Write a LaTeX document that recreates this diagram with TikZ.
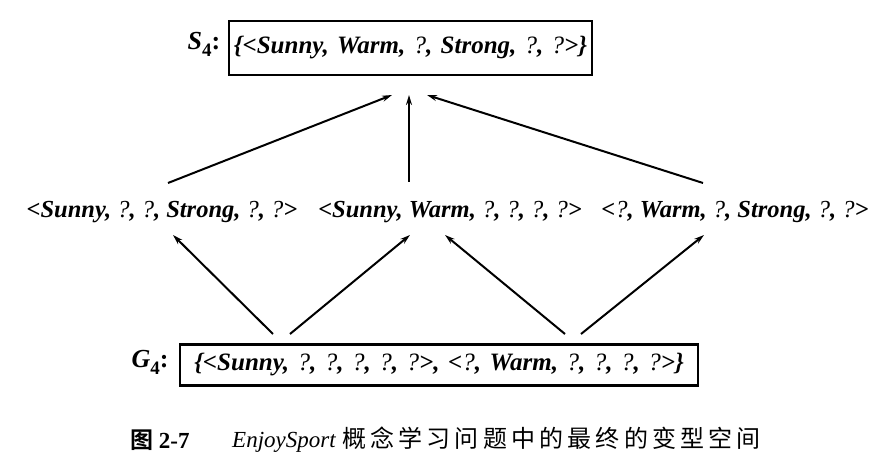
\documentclass[tikz,border=0pt]{standalone}
\usepackage{fontspec}
\setmainfont{Liberation Serif}
\newfontfamily\cjkfont{Noto Sans CJK SC}
\newfontfamily\cjkboldfont{Noto Sans CJK SC}[BoldFont={* Bold}]
\usetikzlibrary{arrows.meta}
\newcommand{\qm}{{\mdseries ?}}
\newcommand{\ck}[1]{#1\kern4.2pt}
\newcommand{\wsp}[1]{\spaceskip=#1em\relax}
\tikzset{
  setbox/.style={draw, line width=2.6pt, inner sep=3pt, anchor=center},
  hyp/.style={inner sep=0pt, anchor=center,
    font=\fontsize{24.5}{28}\selectfont\bfseries\itshape},
  setlab/.style={inner sep=0pt, anchor=center,
    font=\fontsize{26}{28}\selectfont\bfseries},
  conn/.style={line width=2pt, -{Stealth[length=10pt,width=6pt]}},
  captext/.style={inner sep=0pt, anchor=west}
}
\begin{document}
\begin{tikzpicture}[x=1pt,y=-1pt]
\useasboundingbox (0,0) rectangle (895,465);
\fill[white] (0,0) rectangle (895,465);
% S4
\node[setbox, minimum width=363pt, minimum height=54pt,
  font=\fontsize{25}{28}\selectfont\bfseries\itshape] (s4) at (410.5,48)
  {\wsp{0.33}\{<Sunny, Warm, \qm, Strong, \qm, \qm>\}};
\node[setlab] (s4lab) at (204,44) {\textit{S}\raisebox{-7pt}{\fontsize{19}{19}\selectfont 4}:};
% middle hypotheses
\node[hyp] (m1) at (162,212) {<Sunny, \qm, \qm, Strong, \qm, \qm>};
\node[hyp] (m2) at (450,212) {<Sunny, Warm, \qm, \qm, \qm, \qm>};
\node[hyp] (m3) at (735,212) {<\qm, Warm, \qm, Strong, \qm, \qm>};
% G4
\node[setbox, minimum width=518pt, minimum height=41pt,
  font=\fontsize{25}{28}\selectfont\bfseries\itshape] (g4) at (439,365)
  {\wsp{0.34}\{<Sunny, \qm, \qm, \qm, \qm, \qm>, <\qm, Warm, \qm, \qm, \qm, \qm>\}};
\node[setlab] (g4lab) at (150,362) {\textit{G}\raisebox{-7pt}{\fontsize{19}{19}\selectfont 4}:};
% arrow end coordinates
\coordinate (a1s) at (168,183); \coordinate (a1e) at (392,95);
\coordinate (a2s) at (409,182); \coordinate (a2e) at (409,95);
\coordinate (a3s) at (703,183); \coordinate (a3e) at (427,95);
\coordinate (b1s) at (273,334); \coordinate (b1e) at (173,235);
\coordinate (b2s) at (290,334); \coordinate (b2e) at (410,235);
\coordinate (b3s) at (565,334); \coordinate (b3e) at (445,235);
\coordinate (b4s) at (581,334); \coordinate (b4e) at (704,235);
\draw[conn] (a1s) -- (a1e);
\draw[conn] (a2s) -- (a2e);
\draw[conn] (a3s) -- (a3e);
\draw[conn] (b1s) -- (b1e);
\draw[conn] (b2s) -- (b2e);
\draw[conn] (b3s) -- (b3e);
\draw[conn] (b4s) -- (b4e);
% caption
\node[captext] (capnum) at (130,440) {\fontsize{23}{26}\selectfont{\cjkboldfont\bfseries 图} \bfseries 2-7};
\node[captext] (captxt) at (232,440) {\fontsize{23}{26}\selectfont\textit{EnjoySport}\hspace{6pt}{\cjkfont\fontsize{24}{26}\selectfont \ck{概}\ck{念}\ck{学}\ck{习}\ck{问}\ck{题}\ck{中}\ck{的}\ck{最}\ck{终}\ck{的}\ck{变}\ck{型}\ck{空}间}};
\end{tikzpicture}
\end{document}
